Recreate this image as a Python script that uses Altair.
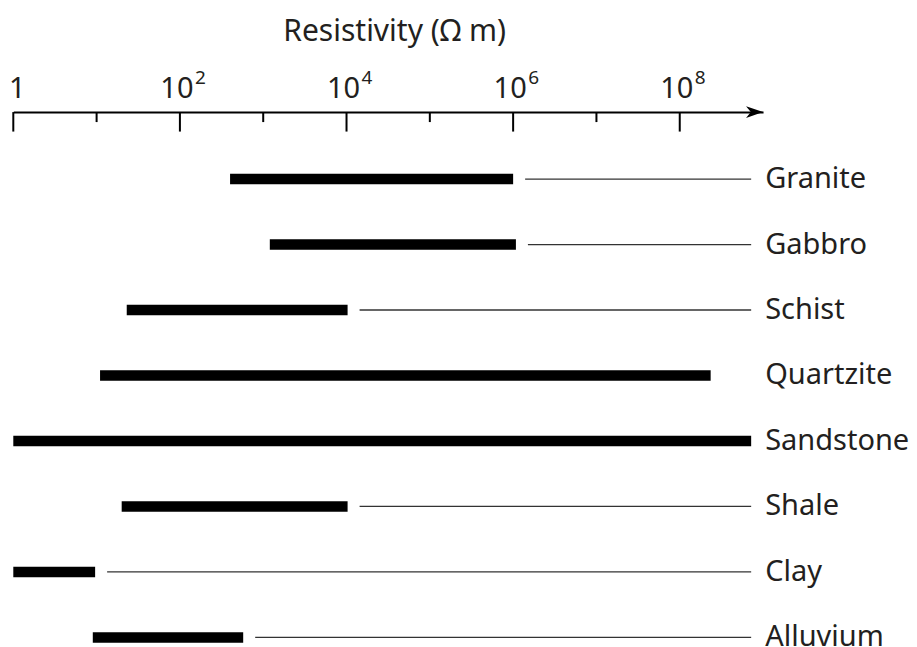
import altair as alt
import pandas as pd

# ---- data ----
rocks = ["Granite", "Gabbro", "Schist", "Quartzite", "Sandstone", "Shale", "Clay", "Alluvium"]
low = [400, 1200, 23, 11, 1, 20, 1, 9]            # ohm m
high = [1e6, 1.08e6, 1.03e4, 2.35e8, 7.2e8, 1.03e4, 9.6, 575]
has_line = [True, True, True, False, False, True, True, True]
line_end = 7.2e8

decades = [1, 10, 100, 1e3, 1e4, 1e5, 1e6, 1e7, 1e8]
major_values = [1, 100, 1e4, 1e6, 1e8]
major_base = ["1", "10", "10", "10", "10"]
major_sup = ["", "2", "4", "6", "8"]
axis_max = 1e9
axis_title = "Resistivity (\u03a9 m)"

FONT = "Noto Sans"
TXT = "#231f20"

df = pd.DataFrame({"rock": rocks, "low": low, "high": high, "has_line": has_line})
df["end"] = line_end
lines_df = df[df["has_line"]].copy()

tick_df = pd.DataFrame({"v": decades, "major": [i % 2 == 0 for i in range(len(decades))]})
lab_df = pd.DataFrame({"v": major_values, "base": major_base, "sup": major_sup})
arrow_df = pd.DataFrame({"v": [axis_max]})

xscale = alt.Scale(type="log", domain=[1, axis_max])
yscale = alt.Scale(type="point", domain=rocks, range=[67, 525.5], padding=0)

x_axis = alt.Axis(
    orient="top", values=major_values, labels=False, ticks=False, grid=False,
    domain=True, domainColor="black", domainWidth=2,
    title=axis_title, titleFont=FONT, titleFontSize=30, titleFontWeight="normal",
    titleColor=TXT, titleX=381, titleY=-72, titleAlign="center",
    titleBaseline="alphabetic",
)

bars = alt.Chart(df).mark_rule(strokeWidth=10.5, strokeCap="butt", color="black").encode(
    x=alt.X("low:Q", scale=xscale, axis=x_axis),
    x2="high:Q",
    y=alt.Y("rock:N", scale=yscale, axis=None),
)

thin = alt.Chart(lines_df).mark_rule(strokeWidth=1.3, color="#333333", xOffset=12).encode(
    x=alt.X("high:Q", scale=xscale, axis=x_axis),
    x2="end:Q",
    y=alt.Y("rock:N", scale=yscale, axis=None),
)

names = alt.Chart(df).mark_text(
    align="left", baseline="middle", dx=14, fontSize=29, font=FONT, color=TXT
).encode(
    x=alt.X("end:Q", scale=xscale, axis=x_axis),
    y=alt.Y("rock:N", scale=yscale, axis=None),
    text="rock:N",
)

major_ticks = alt.Chart(tick_df).transform_filter("datum.major").mark_rule(
    strokeWidth=2, color="black"
).encode(x=alt.X("v:Q", scale=xscale, axis=x_axis), y=alt.value(0), y2=alt.value(19.5))

minor_ticks = alt.Chart(tick_df).transform_filter("!datum.major").mark_rule(
    strokeWidth=2, color="black"
).encode(x=alt.X("v:Q", scale=xscale, axis=x_axis), y=alt.value(0), y2=alt.value(10))

lab_ten = alt.Chart(lab_df).transform_filter("datum.sup != ''").mark_text(
    align="center", baseline="alphabetic", dx=-3, fontSize=29, font=FONT, color=TXT
).encode(x=alt.X("v:Q", scale=xscale, axis=x_axis), y=alt.value(-14), text="base:N")

lab_one = alt.Chart(lab_df).transform_filter("datum.sup == ''").mark_text(
    align="center", baseline="alphabetic", dx=4, fontSize=29, font=FONT, color=TXT
).encode(x=alt.X("v:Q", scale=xscale, axis=x_axis), y=alt.value(-14), text="base:N")

lab_sup = alt.Chart(lab_df).transform_filter("datum.sup != ''").mark_text(
    align="left", baseline="alphabetic", dx=15, fontSize=19, font=FONT, color=TXT
).encode(x=alt.X("v:Q", scale=xscale, axis=x_axis), y=alt.value(-28), text="sup:N")

arrow = alt.Chart(arrow_df).mark_point(
    shape="M0,0 L-1,-0.35 L-0.72,0 L-1,0.35 Z", size=1156, filled=True,
    color="black", opacity=1, strokeWidth=0
).encode(x=alt.X("v:Q", scale=xscale, axis=x_axis), y=alt.value(0))

chart = alt.layer(
    thin, bars, major_ticks, minor_ticks, arrow, lab_ten, lab_one, lab_sup, names
).properties(
    width=750, height=535,
    autosize=alt.AutoSizeParams(type="none"),
    padding={"left": 5.3, "top": 104, "right": 146, "bottom": 14},
).configure_view(stroke=None)

chart.save("out.html", embed_options={"renderer": "svg", "actions": False})
